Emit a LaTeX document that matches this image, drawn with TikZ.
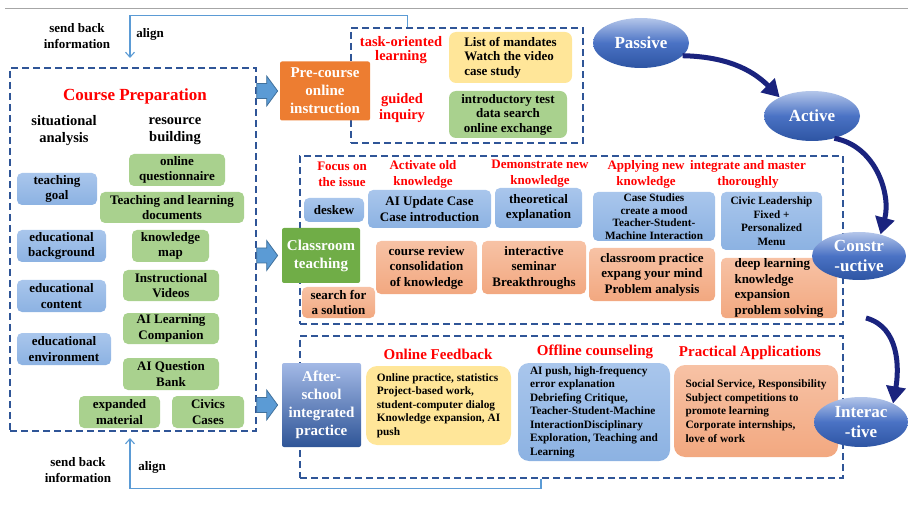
\documentclass[tikz,border=0pt]{standalone}
\usepackage{fontspec}
\setmainfont{Liberation Serif}
\usetikzlibrary{arrows.meta,positioning,shapes.geometric,calc}

\definecolor{dashblue}{HTML}{2F5597}
\definecolor{blutop}{HTML}{A9C6EC}
\definecolor{blubot}{HTML}{8CB2E2}
\definecolor{grnbox}{HTML}{A9D18E}
\definecolor{orgtop}{HTML}{F7C2A5}
\definecolor{orgbot}{HTML}{F2A880}
\definecolor{ylwbox}{HTML}{FFE699}
\definecolor{orgstage}{HTML}{ED7D31}
\definecolor{grnstage}{HTML}{70AD47}
\definecolor{afttop}{HTML}{A3B9E6}
\definecolor{aftbot}{HTML}{2F5597}
\definecolor{elltop}{HTML}{B4C6EA}
\definecolor{ellmid}{HTML}{4A72C4}
\definecolor{ellbot}{HTML}{2E55A3}
\definecolor{walknavy}{HTML}{1A237E}
\definecolor{fbblue}{HTML}{5B9BD5}
\definecolor{arrfill}{HTML}{5B9BD5}
\definecolor{arredge}{HTML}{41719C}
\definecolor{rulegray}{HTML}{A6A6A6}

\newcommand{\fsz}[2]{\fontsize{#1}{#2}\selectfont\bfseries}

\begin{document}
\begin{tikzpicture}[x=1pt, y=1pt, font=\fsz{13}{15.5},
	   wh/.style 2 args={minimum width=#1pt, minimum height=#2pt},
	   dbox/.style={draw=dashblue, line width=1.3pt, dash pattern=on 7pt off 4pt, inner sep=0pt},
	   bb/.style={rounded corners=5pt, align=center, inner sep=1pt, top color=blutop, bottom color=blubot},
	   gb/.style={rounded corners=5pt, align=center, inner sep=1pt, fill=grnbox},
	   ob/.style={rounded corners=5pt, align=center, inner sep=1pt, top color=orgtop, bottom color=orgbot},
	   yb/.style={rounded corners=7pt, align=center, inner sep=1pt, fill=ylwbox},
	   stage/.style={rounded corners=2pt, align=center, inner sep=1pt, text=white, font=\fsz{15}{18}},
	   lbl/.style={text=red, align=center, inner sep=0pt},
	   phase/.style={ellipse, wh={96}{50}, inner sep=0pt, top color=elltop, bottom color=ellbot, middle color=ellmid, text=white, align=center, font=\fsz{17}{20}},
	   fb/.style={draw=fbblue, line width=1.1pt, -{Straight Barb[length=5pt,width=9pt]}},
	   walk/.style={draw=walknavy, line width=5pt, -{Triangle[length=17pt,width=19pt]}},
	   bigarr/.style={fill=arrfill, draw=arredge, line width=0.8pt}]
	  \useasboundingbox (0,0) rectangle (908,-505);
	  \draw[rulegray, line width=0.8pt] (5,-8) -- (908,-8);

	  % dashed frames
	  \node[dbox, wh={246}{363}] (cp) at (133,-249.5) {};
	  \node[dbox, wh={232}{115}] (pcb) at (467,-85.5) {};
	  \node[dbox, wh={543}{168}] (clb) at (571.5,-240) {};
	  \node[dbox, wh={543}{142}] (asb) at (571.5,-407) {};

	  % feedback loops
	  \coordinate (fbtop) at (130,-58);
	  \coordinate (fbbot) at (130,-438);
	  \draw[fb] ([xshift=57pt]pcb.north west) -- ++(0,12) -| (fbtop);
	  \draw[fb] ([xshift=-30.5pt]asb.south) -- ++(0,-10) -| (fbbot);
	  \node[align=center, font=\fsz{13}{16}] (sb1) at (77,-36) {send back\\information};
	  \node (al1) at (150,-34) {align};
	  \node[align=center, font=\fsz{13}{16}] (sb2) at (78,-470) {send back\\information};
	  \node (al2) at (152,-467) {align};

	  % course preparation
	  \node[lbl, font=\fsz{17}{20}] (cptitle) at (135,-96) {Course Preparation};
	  \node[align=center, font=\fsz{14.5}{17}] (sit) at (64,-131) {situational\\analysis};
	  \node[align=center, font=\fsz{14.5}{17}] (res) at (175,-131) {resource\\building};
	  \node[bb, wh={80}{32}] (tgoal) at (57,-189) {teaching\\goal};
	  \node[bb, wh={89}{32}] (eback) at (61.5,-246) {educational\\background};
	  \node[bb, wh={89}{32}] (econt) at (61.5,-296) {educational\\content};
	  \node[bb, wh={94}{32}] (eenv) at (64,-349) {educational\\environment};
	  \node[gb, wh={96}{32}] (quest) at (177,-170) {online\\questionnaire};
	  \node[gb, wh={144}{31}] (docs) at (172,-207.5) {Teaching and learning\\documents};
	  \node[gb, wh={77}{32}] (kmap) at (170.5,-246) {knowledge\\map};
	  \node[gb, wh={96}{31}] (video) at (171,-285.5) {Instructional\\Videos};
	  \node[gb, wh={96}{31}] (aicomp) at (171,-328.5) {AI Learning\\Companion};
	  \node[gb, wh={96}{32}] (aibank) at (171,-374) {AI Question\\Bank};
	  \node[gb, wh={81}{32}] (expm) at (119.5,-412) {expanded\\material};
	  \node[gb, wh={72}{32}] (civic) at (208,-412) {Civics\\Cases};

	  % stages
	  \node[stage, fill=orgstage, wh={90}{59}] (pre) at (325,-91) {Pre-course\\online\\instruction};
	  \node[stage, fill=grnstage, wh={78}{55}] (cls) at (321,-255.5) {Classroom\\teaching};
	  \node[stage, top color=afttop, bottom color=aftbot, wh={79}{84}] (aft) at (321.5,-405) {After-\\school\\integrated\\practice};
	  \foreach \t in {pre,cls,aft}
	    \filldraw[bigarr] ($(cp.east |- \t)+(0,7.5)$) -- ++(10,0) -- ++(0,7.5)
	      -- ($(cp.east |- \t)+(21,0)$) -- ++(-11,-15) -- ++(0,7.5) -- ++(-10,0) -- cycle;

	  % pre-course online
	  \node[lbl, font=\fsz{14.5}{14.5}] (task) at (401,-50) {task-oriented\\learning};
	  \node[lbl, font=\fsz{14.5}{16}] (guid) at (402,-108) {guided\\inquiry};
	  \node[yb, wh={123}{51}, align=left, font=\fsz{13}{14.5}] (mand) at (510.5,-57.5) {List of mandates\\Watch the video\\case study};
	  \node[gb, wh={118}{47}, rounded corners=7pt, font=\fsz{13}{14.5}] (intro) at (508,-114.5) {introductory test\\data search\\online exchange};

	  % classroom
	  \node[lbl, font=\fsz{13}{16}] (focus) at (342,-174) {Focus on\\the issue};
	  \node[lbl, font=\fsz{13}{16}] (activ) at (423,-174) {Activate old\\knowledge};
	  \node[lbl, font=\fsz{13}{16}] (demo) at (540,-174) {Demonstrate new\\knowledge};
	  \node[lbl, font=\fsz{13}{16}] (apply) at (646,-174) {Applying new\\knowledge};
	  \node[lbl, font=\fsz{13}{16}] (integ) at (748,-174) {integrate and master\\thoroughly};
	  \node[bb, wh={60}{24}] (deskew) at (334,-210) {deskew};
	  \node[ob, wh={73}{31}] (search) at (338.5,-302.5) {search for\\a solution};
	  \node[bb, wh={123}{38}] (aiupd) at (429.5,-209) {AI Update Case\\Case introduction};
	  \node[bb, wh={87}{40}] (theo) at (538.5,-208) {theoretical\\explanation};
	  \node[bb, wh={122}{49}, inner sep=0.5pt, font=\fsz{11.2}{12.5}] (cases) at (654,-216.5) {Case Studies\\create a mood\\Teacher-Student-\\Machine Interaction};
	  \node[bb, wh={101}{58}, font=\fsz{11.2}{13.5}] (lead) at (771.5,-221) {Civic Leadership\\Fixed +\\Personalized\\Menu};
	  \node[ob, wh={101}{53}] (review) at (426.5,-267.5) {course review\\consolidation\\of knowledge};
	  \node[ob, wh={104}{53}] (semi) at (534,-267.5) {interactive\\seminar\\Breakthroughs};
	  \node[ob, wh={126}{53}] (prac) at (652,-274.5) {classroom practice\\expang your mind\\Problem analysis};
	  \node[ob, wh={116}{60}, align=left] (deep) at (779,-288) {deep learning\\knowledge\\expansion\\problem solving};

	  % after-school
	  \node[lbl, font=\fsz{15}{18}] (lonfb) at (438,-354) {Online Feedback};
	  \node[lbl, font=\fsz{15}{18}] (loffc) at (595,-352) {Offline counseling};
	  \node[lbl, font=\fsz{15}{18}] (lpapp) at (750,-353) {Practical Applications};
	  \node[yb, wh={145}{79}, rounded corners=11pt, align=left, font=\fsz{11.3}{13.5}] (onfb) at (438.5,-405.5)
	    {Online practice, statistics\\Project-based work,\\student-computer dialog\\Knowledge expansion, AI\\push};
	  \node[bb, wh={152}{98}, rounded corners=11pt, align=left, font=\fsz{11.3}{13.5}] (offc) at (594,-412)
	    {AI push, high-frequency\\error explanation\\Debriefing Critique,\\Teacher-Student-Machine\\InteractionDisciplinary\\Exploration, Teaching and\\Learning};
	  \node[ob, wh={164}{92}, rounded corners=11pt, align=left, font=\fsz{11.3}{13.7}] (papp) at (756,-411)
	    {Social Service, Responsibility\\Subject competitions to\\promote learning\\Corporate internships,\\love of work};

	  % learning phases
	  \node[phase] (pas) at (641,-43) {Passive};
	  \node[phase] (act) at (812,-116) {Active};
	  \node[phase, wh={94}{48}] (con) at (859,-256) {Constr\\-uctive};
	  \node[phase, wh={94}{50}] (int) at (861,-422) {Interac\\-tive};
	  \coordinate (c3) at (866,-318);
	  \draw[walk] (pas.-17) to[bend left=22] (act.150);
	  \draw[walk] (act.-45) to[out=-10, in=75] (con.45);
	  \draw[walk] (c3) to[out=-15, in=80] (int.30);
	\end{tikzpicture}
\end{document}
